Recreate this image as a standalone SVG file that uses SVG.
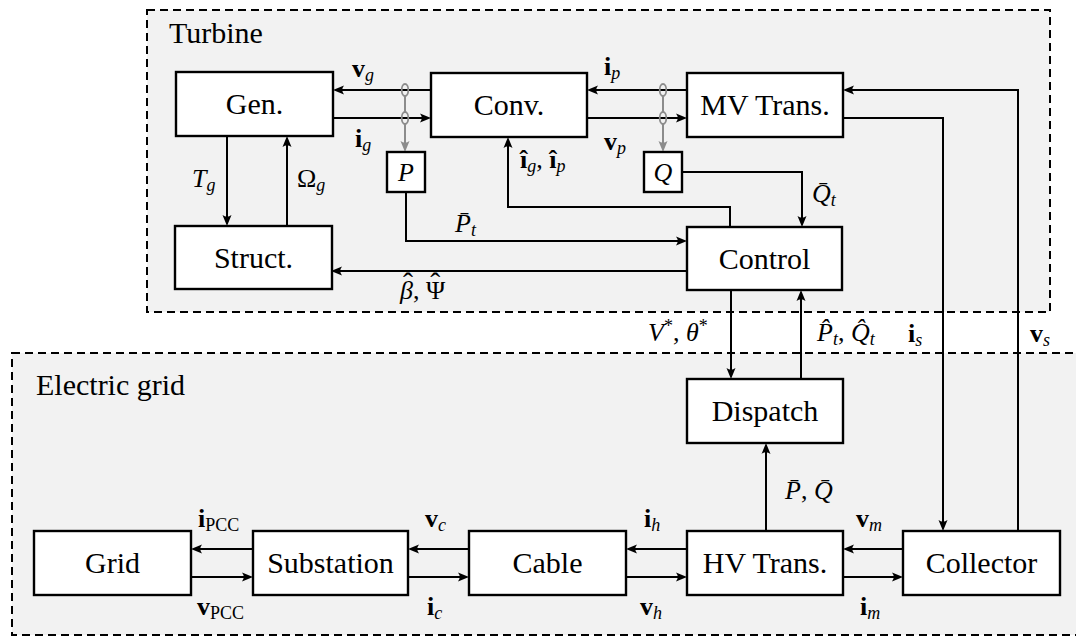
<svg xmlns="http://www.w3.org/2000/svg" width="1076" height="637" viewBox="0 0 1076 637">
<style>
.region{fill:#f2f2f2;stroke:#000;stroke-width:2;stroke-dasharray:8 5}
.rlabel{font-family:'Liberation Serif','DejaVu Serif','Times New Roman',serif;font-size:30px}
.node rect{fill:#fff;stroke:#000;stroke-width:2.4}
.node text{font-family:'Liberation Serif','DejaVu Serif','Times New Roman',serif;font-size:30px;text-anchor:middle}
.node text.mi{font-style:italic;font-size:26px}
.conn path{fill:none;stroke:#000;stroke-width:2}
.conn .arr{marker-end:url(#arr)}
.sens line,.sens path{fill:none;stroke:#8c8c8c;stroke-width:2}
.sens ellipse{fill:none;stroke:#8c8c8c;stroke-width:1.8}
.lbl text{font-family:'Liberation Serif','DejaVu Serif','Times New Roman',serif;font-size:26px}
.b{font-weight:bold}
.i{font-style:italic}
.s{font-size:18px}
.hat{font-size:30px;font-style:normal}
</style>
<defs>
<marker id="arr" viewBox="-6 -6 13 12" refX="0" refY="0" markerWidth="13" markerHeight="12" markerUnits="userSpaceOnUse" orient="auto">
<path d="M6,0 L-5,-4.5 Q-1.5,0 -5,4.5 Z" fill="#000"/>
</marker>
<marker id="garr" viewBox="-6 -6 13 12" refX="0" refY="0" markerWidth="13" markerHeight="12" markerUnits="userSpaceOnUse" orient="auto">
<path d="M6,0 L-5,-4.5 Q-1.5,0 -5,4.5 Z" fill="#8c8c8c"/>
</marker>
</defs>
<rect width="1076" height="637" fill="#fff"/>
<g id="region-turbine">
<rect class="region" x="147" y="10" width="903" height="302"/>
<text class="rlabel" x="169" y="43">Turbine</text>
</g>
<g id="region-grid">
<rect class="region" x="12" y="353" width="1090" height="282"/>
<text class="rlabel" x="36" y="395">Electric grid</text>
</g>
<g id="connectors" class="conn">
<path class="arr" d="M431,90 H339"/>
<path class="arr" d="M333,118 H425"/>
<path class="arr" d="M687,90 H593"/>
<path class="arr" d="M587,118 H681"/>
<path class="arr" d="M227,136 V220"/>
<path class="arr" d="M287,226 V142"/>
<path class="arr" d="M406,192 V241 H681"/>
<path class="arr" d="M687,271 H337"/>
<path class="arr" d="M730,227 V207 H508 V143"/>
<path class="arr" d="M682,172 H802 V221"/>
<path class="arr" d="M843,118 H943 V525"/>
<path class="arr" d="M1018,531 V90 H849"/>
<path class="arr" d="M731,290 V373"/>
<path class="arr" d="M801,379 V296"/>
<path class="arr" d="M766,531 V449"/>
<path class="arr" d="M253,549 H197"/>
<path class="arr" d="M469,549 H414"/>
<path class="arr" d="M687,549 H632"/>
<path class="arr" d="M903,549 H849"/>
<path class="arr" d="M191,577 H247"/>
<path class="arr" d="M408,577 H463"/>
<path class="arr" d="M626,577 H681"/>
<path class="arr" d="M843,577 H897"/>
<g class="sens">
<ellipse cx="405" cy="90" rx="3.3" ry="6"/>
<ellipse cx="405" cy="118" rx="3.3" ry="6"/>
<line x1="405" y1="96" x2="405" y2="112"/>
<path d="M405,124 V146" marker-end="url(#garr)"/>
<ellipse cx="663" cy="90" rx="3.3" ry="6"/>
<ellipse cx="663" cy="118" rx="3.3" ry="6"/>
<line x1="663" y1="96" x2="663" y2="112"/>
<path d="M663,124 V146" marker-end="url(#garr)"/>
</g>
</g>
<g id="gen" class="node"><rect x="176" y="72" width="157" height="64"/><text x="254.5" y="114">Gen.</text></g>
<g id="conv" class="node"><rect x="431" y="73" width="156" height="64"/><text x="509" y="115">Conv.</text></g>
<g id="mvtrans" class="node"><rect x="687" y="73" width="156" height="64"/><text x="765" y="115">MV Trans.</text></g>
<g id="p" class="node"><rect x="387" y="152" width="38" height="40"/><text class="mi" x="406" y="181">P</text></g>
<g id="q" class="node"><rect x="644" y="152" width="38" height="40"/><text class="mi" x="663" y="181">Q</text></g>
<g id="struct" class="node"><rect x="175" y="226" width="157" height="63"/><text x="253.5" y="268">Struct.</text></g>
<g id="control" class="node"><rect x="687" y="227" width="155" height="63"/><text x="764.5" y="269">Control</text></g>
<g id="dispatch" class="node"><rect x="687" y="379" width="156" height="64"/><text x="765" y="421">Dispatch</text></g>
<g id="grid" class="node"><rect x="34" y="531" width="157" height="64"/><text x="112.5" y="573">Grid</text></g>
<g id="substation" class="node"><rect x="253" y="531" width="155" height="64"/><text x="330.5" y="573">Substation</text></g>
<g id="cable" class="node"><rect x="469" y="531" width="157" height="64"/><text x="547.5" y="573">Cable</text></g>
<g id="hvtrans" class="node"><rect x="687" y="531" width="156" height="64"/><text x="765" y="573">HV Trans.</text></g>
<g id="collector" class="node"><rect x="903" y="531" width="157" height="64"/><text x="981.5" y="573">Collector</text></g>
<g id="labels" class="lbl">
<text x="352" y="77"><tspan class="b">v</tspan><tspan class="i s" dy="4">g</tspan></text>
<text x="355" y="147"><tspan class="b">i</tspan><tspan class="i s" dy="4">g</tspan></text>
<text x="604" y="75"><tspan class="b">i</tspan><tspan class="i s" dy="4">p</tspan></text>
<text x="604" y="150"><tspan class="b">v</tspan><tspan class="i s" dy="4">p</tspan></text>
<text x="520" y="168"><tspan class="b">î</tspan><tspan class="i s" dy="4">g</tspan><tspan dy="-4">, </tspan><tspan class="b">î</tspan><tspan class="i s" dy="4">p</tspan></text>
<text x="192" y="187"><tspan class="i">T</tspan><tspan class="i s" dy="4">g</tspan></text>
<text x="297" y="187"><tspan>Ω</tspan><tspan class="i s" dy="4">g</tspan></text>
<text x="455" y="232"><tspan class="i">P̄</tspan><tspan class="i s" dy="4">t</tspan></text>
<text x="400" y="299"><tspan class="i">β</tspan><tspan class="hat" dx="-10" dy="-6">ˆ</tspan><tspan dy="6">, Ψ</tspan><tspan class="hat" dx="-15" dy="-6">ˆ</tspan></text>
<text x="812" y="202"><tspan class="i">Q̄</tspan><tspan class="i s" dy="4">t</tspan></text>
<text x="648" y="341"><tspan class="i">V</tspan><tspan class="s" dy="-9">*</tspan><tspan dy="9">, </tspan><tspan class="i">θ</tspan><tspan class="s" dy="-9">*</tspan></text>
<text x="817" y="341"><tspan class="i">P̂</tspan><tspan class="i s" dy="4">t</tspan><tspan dy="-4">, </tspan><tspan class="i">Q̂</tspan><tspan class="i s" dy="4">t</tspan></text>
<text x="908" y="342"><tspan class="b">i</tspan><tspan class="i s" dy="4">s</tspan></text>
<text x="1030" y="342"><tspan class="b">v</tspan><tspan class="i s" dy="4">s</tspan></text>
<text x="785" y="499"><tspan class="i">P̄</tspan><tspan>, </tspan><tspan class="i">Q̄</tspan></text>
<text x="198" y="527"><tspan class="b">i</tspan><tspan class="s" dy="4">PCC</tspan></text>
<text x="425" y="527"><tspan class="b">v</tspan><tspan class="i s" dy="4">c</tspan></text>
<text x="644" y="527"><tspan class="b">i</tspan><tspan class="i s" dy="4">h</tspan></text>
<text x="856" y="527"><tspan class="b">v</tspan><tspan class="i s" dy="4">m</tspan></text>
<text x="197" y="615"><tspan class="b">v</tspan><tspan class="s" dy="4">PCC</tspan></text>
<text x="427" y="615"><tspan class="b">i</tspan><tspan class="i s" dy="4">c</tspan></text>
<text x="640" y="615"><tspan class="b">v</tspan><tspan class="i s" dy="4">h</tspan></text>
<text x="860" y="615"><tspan class="b">i</tspan><tspan class="i s" dy="4">m</tspan></text>
</g>
</svg>
